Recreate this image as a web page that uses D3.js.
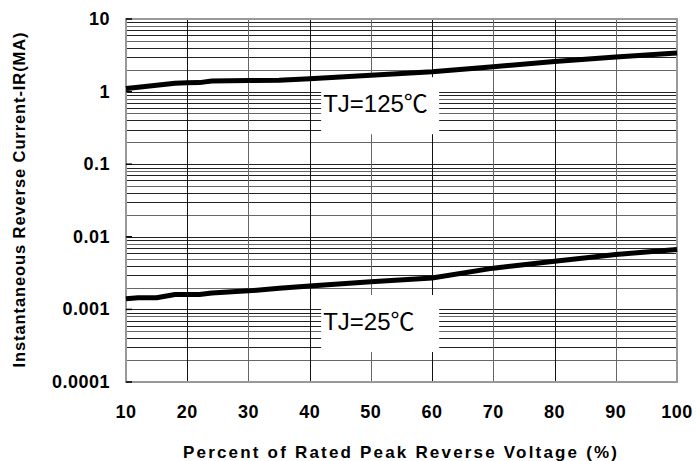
<!DOCTYPE html>
<html>
<head>
<meta charset="utf-8">
<script src="https://cdn.jsdelivr.net/npm/d3@7"></script>
<style>
  body { margin: 0; background: #fff; }
  svg { display: block; }
</style>
</head>
<body>
<svg id="chart" width="696" height="461"></svg>
<script>
// values
const voltagePct = [10, 12, 15, 18, 20, 22, 24, 30, 35, 40, 50, 60, 70, 80, 90, 100];
const current125 = [1.1, 1.15, 1.22, 1.3, 1.32, 1.33, 1.4, 1.42, 1.43, 1.5, 1.68, 1.88, 2.2, 2.6, 3.0, 3.4];
const current25 = [0.0014, 0.00145, 0.00145, 0.0016, 0.0016, 0.0016, 0.00168, 0.0018, 0.00195, 0.0021, 0.0024, 0.0027, 0.0037, 0.0046, 0.0057, 0.0067];
const xTicks = [10, 20, 30, 40, 50, 60, 70, 80, 90, 100];
const yTicks = [0.0001, 0.001, 0.01, 0.1, 1, 10];
const yTickLabels = ['0.0001', '0.001', '0.01', '0.1', '1', '10'];
const curveLabels = ['TJ=125\u2103', 'TJ=25\u2103'];

const FONT = "'Liberation Sans', Arimo, sans-serif";

const svg = d3.select('#chart');
const x = d3.scaleLinear().domain([10, 100]).range([126, 677]);
const y = d3.scaleLog().domain([0.0001, 10]).range([382, 19]);

// horizontal grid: every 1..9 x 10^k
const minor = [];
for (let k = -4; k < 1; k++) {
  for (let m = 1; m <= 9; m++) minor.push(m * Math.pow(10, k));
}
minor.push(10);

const grid = svg.append('g');
grid.selectAll('line.h')
  .data(minor)
  .join('line')
  .attr('class', 'h')
  .attr('x1', x(10)).attr('x2', x(100))
  .attr('y1', (d) => Math.round(y(d)) + 0.5)
  .attr('y2', (d) => Math.round(y(d)) + 0.5)
  .attr('stroke', (d, i) => (i % 3 === 1 ? '#666' : '#222'))
  .attr('stroke-width', 1);

grid.selectAll('line.v')
  .data(xTicks)
  .join('line')
  .attr('class', 'v')
  .attr('x1', (d) => Math.round(x(d)) + 0.5)
  .attr('x2', (d) => Math.round(x(d)) + 0.5)
  .attr('y1', y(10)).attr('y2', y(0.0001))
  .attr('stroke', (d, i) => (i % 2 === 0 ? '#666' : '#111'))
  .attr('stroke-width', 1);

// white boxes behind the curve labels
const labelPos = [
  { text: curveLabels[0], px: 42.2, val: 0.52 },
  { text: curveLabels[1], px: 42.2, val: 0.00052 }
];
const lbl = svg.append('g');
labelPos.forEach((l) => {
  const tx = x(l.px);
  const ty = y(l.val);
  lbl.append('rect')
    .attr('x', tx - 2)
    .attr('y', ty - 35)
    .attr('width', 118)
    .attr('height', 57)
    .attr('fill', '#fff');
  lbl.append('text')
    .attr('x', tx)
    .attr('y', ty)
    .attr('font-family', FONT + ", 'Noto Sans CJK SC'")
    .attr('font-size', 24)
    .attr('fill', '#000')
    .text(l.text);
});

// plot border
svg.append('rect')
  .attr('x', x(10)).attr('y', y(10))
  .attr('width', x(100) - x(10))
  .attr('height', y(0.0001) - y(10))
  .attr('fill', 'none')
  .attr('stroke', '#999')
  .attr('stroke-width', 2);

// small inner ticks at decades
svg.append('g').selectAll('line')
  .data(yTicks)
  .join('line')
  .attr('x1', x(10)).attr('x2', x(10) + 6)
  .attr('y1', (d) => y(d)).attr('y2', (d) => y(d))
  .attr('stroke', '#000').attr('stroke-width', 1.5);

// curves
const line = d3.line()
  .x((d) => x(d[0]))
  .y((d) => y(d[1]));
[current125, current25].forEach((series) => {
  svg.append('path')
    .datum(voltagePct.map((v, i) => [v, series[i]]))
    .attr('d', line)
    .attr('fill', 'none')
    .attr('stroke', '#000')
    .attr('stroke-width', 5)
    .attr('stroke-linejoin', 'round');
});

// axes labels
svg.append('g').selectAll('text')
  .data(yTicks)
  .join('text')
  .attr('x', 110)
  .attr('y', (d) => y(d) + 6)
  .attr('text-anchor', 'end')
  .attr('font-family', FONT)
  .attr('font-weight', 'bold')
  .attr('font-size', 18)
  .attr('letter-spacing', 0.5)
  .text((d, i) => yTickLabels[i]);

svg.append('g').selectAll('text')
  .data(xTicks)
  .join('text')
  .attr('x', (d) => x(d))
  .attr('y', 418)
  .attr('text-anchor', 'middle')
  .attr('font-family', FONT)
  .attr('font-weight', 'bold')
  .attr('font-size', 18)
  .attr('letter-spacing', 0.5)
  .text((d) => d);

svg.append('text')
  .attr('x', 400)
  .attr('y', 458)
  .attr('text-anchor', 'middle')
  .attr('font-family', FONT)
  .attr('font-weight', 'bold')
  .attr('font-size', 17)
  .attr('textLength', 434)
  .attr('lengthAdjust', 'spacing')
  .text('Percent of Rated Peak Reverse Voltage (%)');

svg.append('text')
  .attr('transform', 'translate(25,200) rotate(-90)')
  .attr('text-anchor', 'middle')
  .attr('font-family', FONT)
  .attr('font-weight', 'bold')
  .attr('font-size', 16.5)
  .attr('textLength', 335)
  .attr('lengthAdjust', 'spacing')
  .text('Instantaneous Reverse Current-IR(MA)');
</script>
</body>
</html>
